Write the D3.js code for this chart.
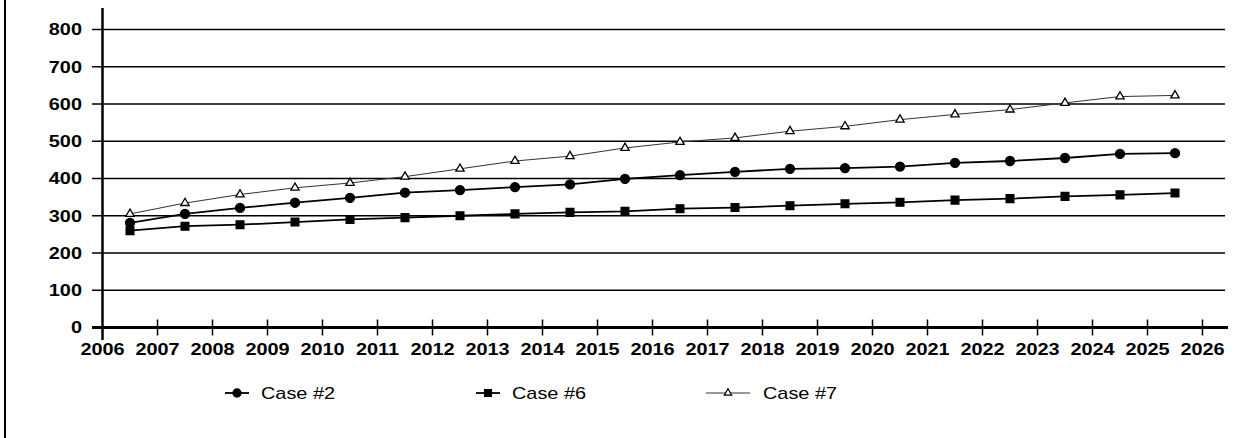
<!DOCTYPE html>
<html>
<head>
<meta charset="utf-8">
<script src="https://cdn.jsdelivr.net/npm/d3@7"></script>
<style>
  body { margin: 0; background: #fff; }
  svg { display: block; font-family: "Liberation Sans", Arial, sans-serif; }
</style>
</head>
<body>
<div id="chart"></div>
<script>
// data (points sit mid-way between year ticks)
const years = [2006, 2007, 2008, 2009, 2010, 2011, 2012, 2013, 2014, 2015,
               2016, 2017, 2018, 2019, 2020, 2021, 2022, 2023, 2024, 2025];
const case2 = [281, 305, 321, 335, 348, 362, 369, 377, 384, 399,
               409, 418, 426, 428, 432, 442, 447, 455, 466, 468];
const case6 = [260, 272, 276, 283, 290, 295, 300, 305, 309, 312,
               319, 322, 327, 332, 336, 342, 346, 352, 356, 361];
const case7 = [305, 334, 357, 375, 388, 405, 426, 447, 460, 482,
               498, 509, 527, 540, 558, 572, 585, 603, 620, 623];
const xTicks = d3.range(2006, 2027);
const yTicks = [0, 100, 200, 300, 400, 500, 600, 700, 800];

const width = 1241, height = 438;
const svg = d3.select("#chart").append("svg")
  .attr("width", width)
  .attr("height", height);

const x = d3.scaleLinear().domain([2006, 2026]).range([102.5, 1202.5]);
const y = d3.scaleLinear().domain([0, 800]).range([327.5, 29.5]);

// scanned text is a little wider than Arial, stretch it horizontally
const stretch = 1.17;

// frame line on the left
svg.append("line")
  .attr("x1", 5).attr("x2", 5).attr("y1", 0).attr("y2", height)
  .attr("stroke", "#000").attr("stroke-width", 2);

// horizontal grid lines
svg.append("g")
  .selectAll("line")
  .data(yTicks.filter(d => d > 0))
  .enter().append("line")
  .attr("x1", 92).attr("x2", 1225)
  .attr("y1", d => y(d)).attr("y2", d => y(d))
  .attr("stroke", "#000").attr("stroke-width", 1.5);

// y labels
svg.append("g")
  .selectAll("text")
  .data(yTicks)
  .enter().append("text")
  .attr("transform", d => `translate(82,${y(d)}) scale(${stretch},1)`)
  .attr("dy", "0.35em")
  .attr("text-anchor", "end")
  .attr("font-size", 17).attr("font-weight", "bold")
  .text(d => d);

// x axis line + ticks
svg.append("line")
  .attr("x1", 92).attr("x2", 1228).attr("y1", y(0)).attr("y2", y(0))
  .attr("stroke", "#000").attr("stroke-width", 3);
svg.append("g")
  .selectAll("line")
  .data(xTicks.slice(1))
  .enter().append("line")
  .attr("x1", d => x(d)).attr("x2", d => x(d))
  .attr("y1", y(0) - 8).attr("y2", y(0) + 8)
  .attr("stroke", "#000").attr("stroke-width", 1.5);
svg.append("g")
  .selectAll("text")
  .data(xTicks)
  .enter().append("text")
  .attr("transform", d => `translate(${x(d)},355) scale(${stretch},1)`)
  .attr("text-anchor", "middle")
  .attr("font-size", 17).attr("font-weight", "bold")
  .text(d => d);

// y axis line
svg.append("line")
  .attr("x1", x(2006)).attr("x2", x(2006)).attr("y1", 8).attr("y2", 340)
  .attr("stroke", "#000").attr("stroke-width", 2.5);

const series = [
  { name: "Case #2", values: case2, symbol: d3.symbolCircle, size: 64, fill: "#000", lw: 1.8, stroke: "#000" },
  { name: "Case #6", values: case6, symbol: d3.symbolSquare, size: 60, fill: "#000", lw: 1.8, stroke: "#000" },
  { name: "Case #7", values: case7, symbol: d3.symbolTriangle, size: 30, fill: "#fff", lw: 1, stroke: "#333" }
];

const line = d3.line()
  .x((d, i) => x(years[i] + 0.5))
  .y(d => y(d));

series.forEach(s => {
  svg.append("path")
    .datum(s.values)
    .attr("fill", "none")
    .attr("stroke", s.stroke)
    .attr("stroke-width", s.lw)
    .attr("d", line);
  svg.append("g")
    .selectAll("path")
    .data(s.values)
    .enter().append("path")
    .attr("transform", (d, i) => `translate(${x(years[i] + 0.5)},${y(d)})`)
    .attr("d", d3.symbol().type(s.symbol).size(s.size))
    .attr("fill", s.fill)
    .attr("stroke", "#000")
    .attr("stroke-width", 1.3);
});

// legend
const legendX = [225, 476, 706];
const legend = svg.append("g")
  .selectAll("g")
  .data(series)
  .enter().append("g")
  .attr("transform", (d, i) => `translate(${legendX[i]},393)`);
legend.append("line")
  .attr("x1", 0).attr("x2", (d, i) => i === 2 ? 44 : 24)
  .attr("stroke", d => d.stroke).attr("stroke-width", d => d.lw);
legend.append("path")
  .attr("transform", (d, i) => `translate(${i === 2 ? 22 : 12},0)`)
  .attr("d", d => d3.symbol().type(d.symbol).size(d.size * 0.8)())
  .attr("fill", d => d.fill)
  .attr("stroke", "#000")
  .attr("stroke-width", 1.2);
legend.append("text")
  .attr("transform", (d, i) => `translate(${i === 2 ? 57 : 36},0) scale(${stretch},1)`)
  .attr("dy", "0.35em")
  .attr("font-size", 17)
  .text(d => d.name);
</script>
</body>
</html>
